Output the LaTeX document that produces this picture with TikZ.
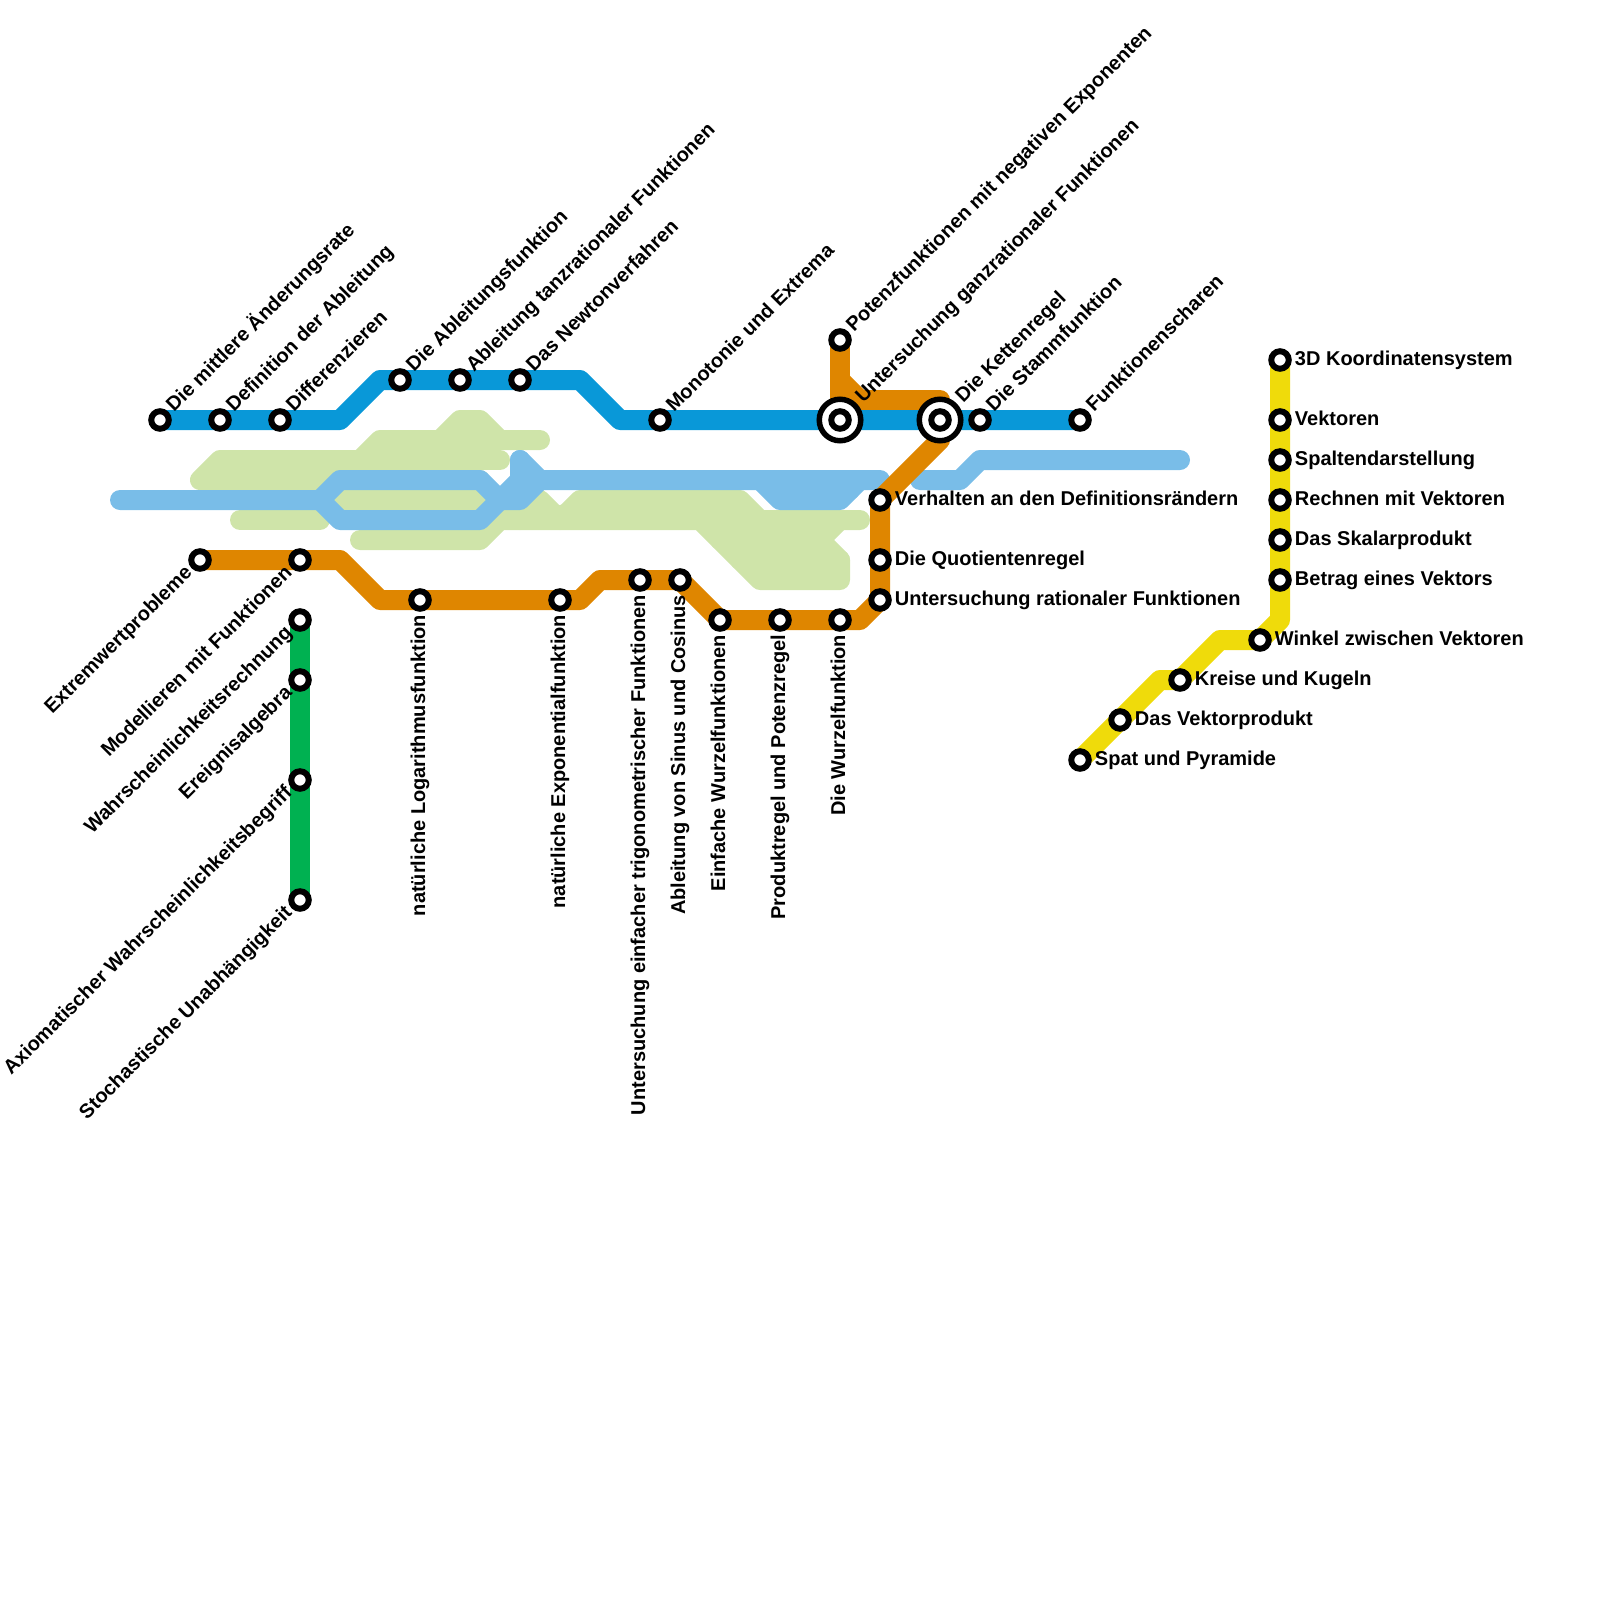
\documentclass[tikz,border=0pt]{standalone}
\usepackage{fontspec}
\setmainfont{Liberation Sans}
\usetikzlibrary{backgrounds}
\definecolor{metroblue}{HTML}{0998D8}
\definecolor{paleblue}{HTML}{79BDE8}
\definecolor{palegreen}{HTML}{CFE4A9}
\definecolor{metroorange}{HTML}{DF8600}
\definecolor{metrogreen}{HTML}{00B151}
\definecolor{metroyellow}{HTML}{EFDB0B}
\tikzset{
  metroline/.style={line width=20pt, line join=round, line cap=round},
  stop/.style={draw, circle, fill=white, line width=6pt, minimum size=17.5pt, inner sep=0pt},
  bigstop/.style={draw, circle, fill=white, line width=5.5pt, minimum size=41.5pt, inner sep=0pt},
  stoptext/.style={font=\bfseries\fontsize{20}{20}\selectfont, inner sep=0pt, outer sep=3.2pt, text height=14.5pt, text depth=4.5pt},
  netext/.style={stoptext, rotate=45, anchor=west},
  swtext/.style={stoptext, rotate=45, anchor=east},
  uptext/.style={stoptext, rotate=90, anchor=east},
  sidetext/.style={stoptext, anchor=west}
}

\begin{document}
\begin{tikzpicture}[x=1pt, y=-1pt]
  \useasboundingbox (0,0) rectangle (1600,1600);

  % upper line
  \node[stop, label={[netext, name=ratetext]45:Die mittlere Änderungsrate}] (mittlere) at (160,420) {};
  \node[stop, label={[netext, name=defitext]45:Definition der Ableitung}] (definition) at (220,420) {};
  \node[stop, label={[netext, name=difftext]45:Differenzieren}] (differenzieren) at (280,420) {};
  \node[stop, label={[netext, name=abltext]45:Die Ableitungsfunktion}] (ableitung) at (400,380) {};
  \node[stop, label={[netext, name=tanztext]45:Ableitung tanzrationaler Funktionen}] (tanzrational) at (460,380) {};
  \node[stop, label={[netext, name=newttext]45:Das Newtonverfahren}] (newton) at (520,380) {};
  \node[stop, label={[netext, name=monotext]45:Monotonie und Extrema}] (monotonie) at (660,420) {};
  \node[bigstop, label={[netext, outer sep=4.5pt, name=ganztext]45:Untersuchung ganzrationaler Funktionen}] (ganzrational) at (840,420) {};
  \node[stop] (ganzinner) at (ganzrational) {};
  \node[bigstop, label={[netext, outer sep=4.5pt, name=kettext]45:Die Kettenregel}] (kette) at (940,420) {};
  \node[stop] (ketteinner) at (kette) {};
  \node[stop, label={[netext, name=stamtext]45:Die Stammfunktion}] (stamm) at (980,420) {};
  \node[stop, label={[netext, name=schatext]45:Funktionenscharen}] (scharen) at (1080,420) {};

  % orange line
  \node[stop, label={[swtext, name=extrtext]225:Extremwertprobleme}] (extrem) at (200,560) {};
  \node[stop, label={[swtext, name=modetext]225:Modellieren mit Funktionen}] (modell) at (300,560) {};
  \node[stop, label={[uptext, name=logatext]270:natürliche Logarithmusfunktion}] (logarithmus) at (420,600) {};
  \node[stop, label={[uptext, name=expotext]270:natürliche Exponentialfunktion}] (exponential) at (560,600) {};
  \node[stop, label={[uptext, name=trigtext]270:Untersuchung einfacher trigonometrischer Funktionen}] (trigon) at (640,580) {};
  \node[stop, label={[uptext, name=sinutext]270:Ableitung von Sinus und Cosinus}] (sinus) at (680,580) {};
  \node[stop, label={[uptext, name=ewurtext]270:Einfache Wurzelfunktionen}] (einfach) at (720,620) {};
  \node[stop, label={[uptext, name=prodtext]270:Produktregel und Potenzregel}] (produkt) at (780,620) {};
  \node[stop, label={[uptext, name=wurztext]270:Die Wurzelfunktion}] (wurzel) at (840,620) {};
  \node[stop, label={[sidetext, name=ratitext]0:Untersuchung rationaler Funktionen}] (rational) at (880,600) {};
  \node[stop, label={[sidetext, name=quottext]0:Die Quotientenregel}] (quotient) at (880,560) {};
  \node[stop, label={[sidetext, name=randtext]0:Verhalten an den Definitionsrändern}] (raender) at (880,500) {};
  \node[stop, label={[netext, name=potetext]45:Potenzfunktionen mit negativen Exponenten}] (potenz) at (840,340) {};

  % green line
  \node[stop, label={[swtext, name=wahrtext]225:Wahrscheinlichkeitsrechnung}] (wahrschein) at (300,620) {};
  \node[stop, label={[swtext, name=ereitext]225:Ereignisalgebra}] (ereignis) at (300,680) {};
  \node[stop, label={[swtext, name=axiotext]225:Axiomatischer Wahrscheinlichkeitsbegriff}] (axiom) at (300,780) {};
  \node[stop, label={[swtext, name=stoctext]225:Stochastische Unabhängigkeit}] (stochastik) at (300,900) {};

  % yellow line
  \node[stop, label={[sidetext, name=koortext]0:3D Koordinatensystem}] (koordinaten) at (1280,360) {};
  \node[stop, label={[sidetext, name=vekttext]0:Vektoren}] (vektoren) at (1280,420) {};
  \node[stop, label={[sidetext, name=spaltext]0:Spaltendarstellung}] (spalten) at (1280,460) {};
  \node[stop, label={[sidetext, name=rechtext]0:Rechnen mit Vektoren}] (rechnen) at (1280,500) {};
  \node[stop, label={[sidetext, name=skaltext]0:Das Skalarprodukt}] (skalar) at (1280,540) {};
  \node[stop, label={[sidetext, name=betrtext]0:Betrag eines Vektors}] (betrag) at (1280,580) {};
  \node[stop, label={[sidetext, name=winktext]0:Winkel zwischen Vektoren}] (winkel) at (1260,640) {};
  \node[stop, label={[sidetext, name=kreitext]0:Kreise und Kugeln}] (kreise) at (1180,680) {};
  \node[stop, label={[sidetext, name=vprotext]0:Das Vektorprodukt}] (vektorprodukt) at (1120,720) {};
  \node[stop, label={[sidetext, name=spattext]0:Spat und Pyramide}] (spat) at (1080,760) {};

  % free ends of the pale lines
  \coordinate (palewest) at (120,500);
  \coordinate (palefork) at (320,500);
  \coordinate (palespike) at (520,460);
  \coordinate (palemid) at (880,480);
  \coordinate (palerest) at (920,480);
  \coordinate (paleeast) at (1180,460);

  \begin{scope}[on background layer]
    % pale green bands
    \fill[palegreen] (200,480) -- (220,460) -- (360,460) -- (380,440) -- (500,440) -- (500,460) -- (480,470) -- (480,490) -- (200,490) -- cycle;
    \fill[palegreen] (340,470) rectangle (480,525);
    \fill[palegreen] (580,500) -- (740,500) -- (760,520) -- (830,540) -- (840,580) -- (760,580) -- (700,520) -- (500,520) -- cycle;
    \draw[metroline, palegreen] (540,440) -- (380,440) -- (360,460) -- (220,460) -- (200,480) -- (480,480);
    \draw[metroline, palegreen] (360,460) -- (500,460);
    \draw[metroline, palegreen] (440,440) -- (460,420) -- (480,420) -- (500,440);
    \draw[metroline, palegreen] (340,500) -- (480,500);
    \draw[metroline, palegreen] (240,520) -- (320,520);
    \draw[metroline, palegreen] (360,540) -- (480,540) -- (500,520) -- (700,520) -- (760,580) -- (840,580) -- (840,560) -- (820,540) -- (840,520);
    \draw[metroline, palegreen] (520,520) -- (540,500) -- (560,520) -- (580,500) -- (740,500) -- (760,520) -- (860,520);
    \draw[metroline, palegreen] (720,540) -- (820,540);
    \draw[metroline, palegreen] (740,560) -- (840,560);

    % pale blue bands
    \draw[metroline, paleblue] (palewest) -- (palefork) -- (340,480) -- (480,480) -- (500,500) -- (520,500) -- (540,480);
    \draw[metroline, paleblue] (palefork) -- (340,520) -- (480,520) -- (520,480);
    \draw[metroline, paleblue] (palespike) -- (520,480);
    \draw[metroline, paleblue] (palespike) -- (540,480) -- (palemid);
    \draw[metroline, paleblue] (760,480) -- (780,500) -- (840,500) -- (860,480);
    \draw[metroline, paleblue] (780,490) -- (850,490);
    \draw[metroline, paleblue] (palerest) -- (960,480) -- (980,460) -- (paleeast);

    % lines with stops
    \draw[metroline, metroorange] (extrem.center) -- (modell.center) -- (340,560) -- (380,600) -- (logarithmus.center) -- (exponential.center) -- (580,600) -- (600,580) -- (trigon.center) -- (sinus.center) -- (einfach.center) -- (produkt.center) -- (wurzel.center) -- (860,620) -- (rational.center) -- (quotient.center) -- (raender.center) -- (940,440) -- (kette.center);
    \draw[metroline, metroorange] (potenz.center) -- (ganzrational.center);
    \draw[metroline, metroorange] (840,380) -- (860,400) -- (940,400) -- (kette.center);
    \draw[metroline, metroblue] (mittlere.center) -- (definition.center) -- (differenzieren.center) -- (340,420) -- (380,380) -- (ableitung.center) -- (tanzrational.center) -- (newton.center) -- (580,380) -- (620,420) -- (monotonie.center) -- (ganzrational.center) -- (kette.center) -- (stamm.center) -- (scharen.center);
    \draw[metroline, metrogreen] (wahrschein.center) -- (ereignis.center) -- (axiom.center) -- (stochastik.center);
    \draw[metroline, metroyellow] (koordinaten.center) -- (vektoren.center) -- (spalten.center) -- (rechnen.center) -- (skalar.center) -- (betrag.center) -- (1280,620) -- (winkel.center) -- (1220,640) -- (kreise.center) -- (1160,680) -- (vektorprodukt.center) -- (spat.center);
  \end{scope}
\end{tikzpicture}
\end{document}
